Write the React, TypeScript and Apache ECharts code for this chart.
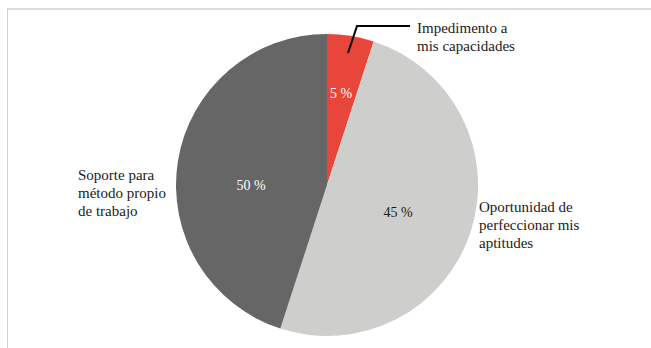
import React, { useEffect, useRef } from "react";
import * as echarts from "echarts";

const categories = [
  "Impedimento a\nmis capacidades",
  "Oportunidad de\nperfeccionar mis\naptitudes",
  "Soporte para\nmétodo propio\nde trabajo",
];
// slice sizes as drawn in the picture
const values = [5, 50, 45];
// percentage labels as printed on the picture
const valueLabels = ["5 %", "45 %", "50 %"];
const colors = ["#E8463A", "#CECECC", "#666666"];
const insideLabelColors = ["#ffffff", "#1a1a1a", "#ffffff"];

const FONT = "Liberation Serif";

export default function App() {
  const ref = useRef<HTMLDivElement>(null);
  useEffect(() => {
    if (!ref.current) return;
    const chart = echarts.init(ref.current, undefined, { renderer: "svg" });
    const insidePos = [
      [341, 93],
      [398, 212],
      [251, 185],
    ];
    const outsidePos = [
      [417, 28],
      [479, 207],
      [78, 175],
    ];
    const lineTexts: any[] = [];
    categories.forEach((name, i) => {
      name.split("\n").forEach((line, j) => {
        lineTexts.push({
          type: "text",
          x: outsidePos[i][0],
          y: outsidePos[i][1] + j * 18,
          silent: true,
          z: 10,
          style: {
            text: line,
            fontFamily: FONT,
            fontSize: 15,
            fill: "#1a1a1a",
            align: "left",
            verticalAlign: "middle",
          },
        });
      });
    });
    chart.setOption({
      animation: false,
      backgroundColor: "#ffffff",
      textStyle: { fontFamily: FONT },
      graphic: [
        {
          type: "line",
          shape: { x1: 7, y1: 9, x2: 651, y2: 9 },
          style: { stroke: "#dcdcdc", lineWidth: 2 },
          silent: true,
        },
        {
          type: "line",
          shape: { x1: 7.5, y1: 9, x2: 7.5, y2: 348 },
          style: { stroke: "#cfcfcf", lineWidth: 1 },
          silent: true,
        },
        {
          type: "polyline",
          shape: {
            points: [
              [348, 53],
              [357, 26],
              [410, 26],
            ],
          },
          style: { stroke: "#000000", lineWidth: 2, fill: "none" },
          silent: true,
          z: 10,
        },
        ...lineTexts,
      ],
      series: [
        {
          type: "pie",
          center: [327, 185],
          radius: 151,
          startAngle: 90,
          clockwise: true,
          avoidLabelOverlap: false,
          silent: true,
          data: categories.map((name, i) => ({
            name,
            value: values[i],
            itemStyle: { color: colors[i] },
            label: { color: insideLabelColors[i] },
          })),
          itemStyle: { borderWidth: 0 },
          label: {
            show: true,
            position: "inside",
            fontFamily: FONT,
            fontSize: 14,
            formatter: (p: any) => valueLabels[p.dataIndex],
          },
          labelLine: { show: false },
          labelLayout: (p: any) => ({
            x: insidePos[p.dataIndex][0],
            y: insidePos[p.dataIndex][1],
            align: "center",
            verticalAlign: "middle",
          }),
        },
      ],
    });
    return () => chart.dispose();
  }, []);
  return (
    <div
      ref={ref}
      style={{ position: "fixed", left: 0, top: 0, width: 651, height: 348 }}
    />
  );
}
